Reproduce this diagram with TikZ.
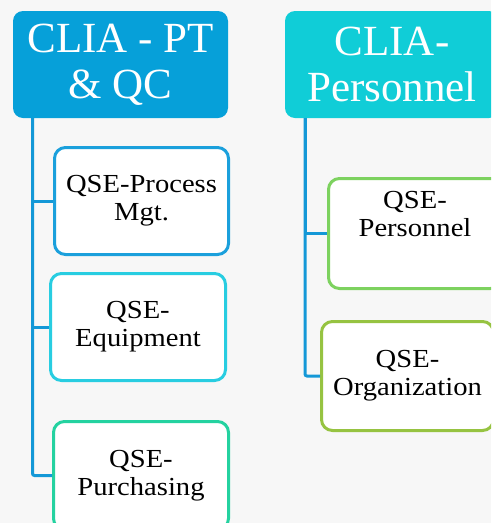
\documentclass[tikz,border=0pt]{standalone}
\usepackage{fontspec}
\setmainfont{Liberation Serif}
\newfontfamily\childfont[FakeStretch=1.1]{Liberation Serif}
\usetikzlibrary{positioning}
\definecolor{bgcol}{RGB}{247,247,247}
\definecolor{titleA}{RGB}{6,160,217}
\definecolor{titleB}{RGB}{16,205,215}
\definecolor{bdC1}{RGB}{27,160,220}
\definecolor{bdC2}{RGB}{40,205,225}
\definecolor{bdC3}{RGB}{36,210,160}
\definecolor{bdD1}{RGB}{125,210,95}
\definecolor{bdD2}{RGB}{150,195,65}
\definecolor{conncol}{RGB}{20,152,215}
\tikzset{
  titlebox/.style={rounded corners=10pt, text=white, align=center, inner sep=0pt,
    font=\fontsize{43}{46}\selectfont},
  childbox/.style={draw, line width=3pt, rounded corners=11pt, fill=white, align=center,
    inner sep=0pt, text=black, font=\childfont\fontsize{26}{28}\selectfont},
  conn/.style={draw=conncol, line width=3pt}
}
\begin{document}
\begin{tikzpicture}[x=1pt,y=1pt]
\clip (0,0) rectangle (491,-523);
\fill[bgcol] (0,0) rectangle (491,-523);
% title boxes
\node[titlebox, fill=titleA, minimum width=215pt, minimum height=107pt] (A) at (120.5,-64.5) {CLIA - PT\\\& QC};
\node[titlebox, fill=titleB, minimum width=214pt, minimum height=107pt] (B) at (392,-64.5) {CLIA-\\Personnel};
% child boxes
\node[childbox, draw=bdC1, minimum width=174pt, minimum height=107pt] (C1) at (141.5,-201) {QSE-Process\\Mgt.};
\node[childbox, draw=bdC2, minimum width=175pt, minimum height=107pt] (C2) at (138,-327) {QSE-\\Equipment};
\node[childbox, draw=bdC3, minimum width=175pt, minimum height=108pt] (C3) at (141,-475.5) {QSE-\\Purchasing};
\node[childbox, draw=bdD1, minimum width=173pt, minimum height=110pt] (D1) at (415,-233.5) {QSE-\\Personnel\\[12pt]\mbox{}};
\node[childbox, draw=bdD2, minimum width=172pt, minimum height=109pt] (D2) at (407.5,-376) {QSE-\\Organization};
% connectors
\coordinate (ta) at (A.south -| 32.5,0);
\coordinate (tb) at (B.south -| 305,0);
\draw[conn] (ta) |- (C1.west);
\draw[conn] (ta) |- (C2.west);
\draw[conn, rounded corners=2pt] (ta) |- (C3.west);
\draw[conn] (tb) |- (D1.west);
\draw[conn, rounded corners=2pt] (tb) |- (D2.west);
\end{tikzpicture}
\end{document}
